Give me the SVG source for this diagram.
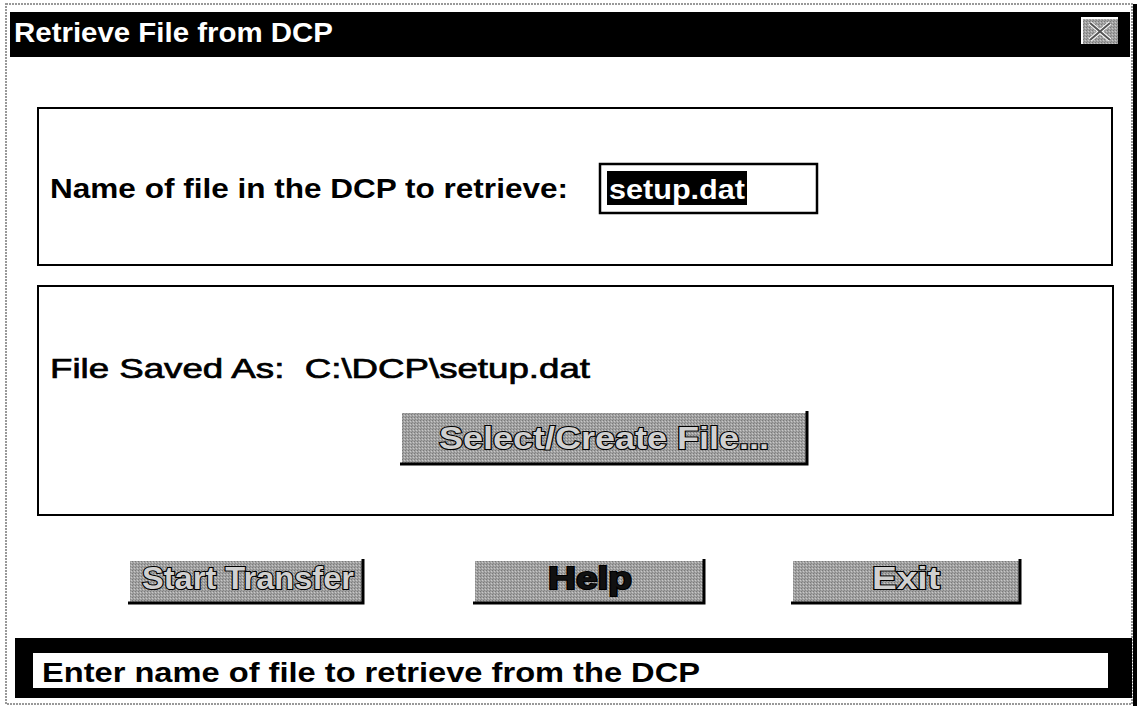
<svg xmlns="http://www.w3.org/2000/svg" width="1138" height="708" viewBox="0 0 1138 708">
<defs>
<pattern id="dither" width="3" height="3" patternUnits="userSpaceOnUse">
<rect width="3" height="3" fill="#a2a2a2"/>
<rect x="0" y="0" width="1" height="1" fill="#7a7a7a"/>
<rect x="2" y="1" width="1" height="1" fill="#c8c8c8"/>
<rect x="1" y="2" width="1" height="1" fill="#888"/>
</pattern>
</defs>
<style>
.lbl{font-family:"Liberation Sans",Arial,sans-serif;font-weight:bold;fill:#000}
.reg{font-family:"Liberation Sans",Arial,sans-serif;fill:#000}
.panel{fill:#fff;stroke:#000;stroke-width:2}
.btn{fill:url(#dither)}
.hi{stroke:#fff;stroke-width:2;fill:none}
.sh{stroke:#000;stroke-width:3;fill:none}
.btxt{font-family:"Liberation Sans",Arial,sans-serif;font-weight:bold;fill:#d0d0d0;stroke:#000;stroke-width:2.2;paint-order:stroke}
</style>
<rect x="0" y="0" width="1138" height="708" fill="#fff"/>
<g id="window">
<rect x="6" y="4" width="1126" height="700" fill="#fff" stroke="#999" stroke-width="2" stroke-dasharray="2 1"/>
<line x1="1135" y1="4" x2="1135" y2="706" stroke="#000" stroke-width="4"/>
</g>
<g id="titlebar">
<rect x="10" y="12" width="1120" height="45" fill="#000"/>
<text class="lbl" x="14" y="42" font-size="28" style="fill:#fff" textLength="319" lengthAdjust="spacingAndGlyphs">Retrieve File from DCP</text>
</g>
<g id="close-button">
<rect x="1082" y="18" width="36" height="26" fill="url(#dither)"/>
<polyline points="1082,44 1082,18 1118,18" fill="none" stroke="#fff" stroke-width="2"/>
<path d="M1090 23 L1110 40 M1110 23 L1090 40" stroke="#fff" stroke-width="4"/>
<path d="M1090 23 L1110 40 M1110 23 L1090 40" stroke="#555" stroke-width="2"/>
</g>
<g id="panel-name">
<rect class="panel" x="38" y="108" width="1074" height="157"/>
<text class="lbl" x="50" y="198" font-size="28" textLength="518" lengthAdjust="spacingAndGlyphs">Name of file in the DCP to retrieve:</text>
</g>
<g id="input-filename">
<rect x="600" y="164" width="217" height="49" fill="#fff" stroke="#000" stroke-width="2.5"/>
<rect x="607" y="171" width="140" height="34" fill="#000"/>
<text class="lbl" x="609" y="199" font-size="28" style="fill:#fff" textLength="136" lengthAdjust="spacingAndGlyphs">setup.dat</text>
</g>
<g id="panel-saved">
<rect class="panel" x="38" y="286" width="1075" height="229"/>
<text class="reg" x="50" y="378" font-size="28" textLength="540" lengthAdjust="spacingAndGlyphs" stroke="#000" stroke-width="0.7">File Saved As:&#160; C:\DCP\setup.dat</text>
</g>
<g id="btn-select">
<rect class="btn" x="400" y="411" width="408" height="54"/>
<polyline class="hi" points="401,464 401,412 807,412"/>
<polyline class="sh" points="400,464 807,464 807,411"/>
<text class="btxt" x="604" y="449" font-size="31" text-anchor="middle" textLength="330" lengthAdjust="spacingAndGlyphs">Select/Create File...</text>
</g>
<g id="btn-start">
<rect class="btn" x="128" y="559" width="236" height="44"/>
<polyline class="hi" points="129,602 129,560 363,560"/>
<polyline class="sh" points="128,603 363,603 363,559"/>
<text class="btxt" x="248" y="589" font-size="31" text-anchor="middle" textLength="212" lengthAdjust="spacingAndGlyphs">Start Transfer</text>
</g>
<g id="btn-help">
<rect class="btn" x="473" y="559" width="232" height="44"/>
<polyline class="hi" points="474,602 474,560 704,560"/>
<polyline class="sh" points="473,603 704,603 704,559"/>
<text class="btxt" x="590" y="589" font-size="31" text-anchor="middle" style="fill:#111" textLength="84" lengthAdjust="spacingAndGlyphs">Help</text>
</g>
<g id="btn-exit">
<rect class="btn" x="791" y="559" width="230" height="44"/>
<polyline class="hi" points="792,602 792,560 1020,560"/>
<polyline class="sh" points="791,603 1020,603 1020,559"/>
<text class="btxt" x="906" y="589" font-size="31" text-anchor="middle" textLength="68" lengthAdjust="spacingAndGlyphs">Exit</text>
</g>
<g id="statusbar">
<rect x="15" y="638" width="1117" height="60" fill="#000"/>
<rect x="33" y="653" width="1075" height="35" fill="#fff"/>
<text class="lbl" x="42" y="682" font-size="28" textLength="658" lengthAdjust="spacingAndGlyphs">Enter name of file to retrieve from the DCP</text>
</g>
<g id="connectors"></g>
</svg>
